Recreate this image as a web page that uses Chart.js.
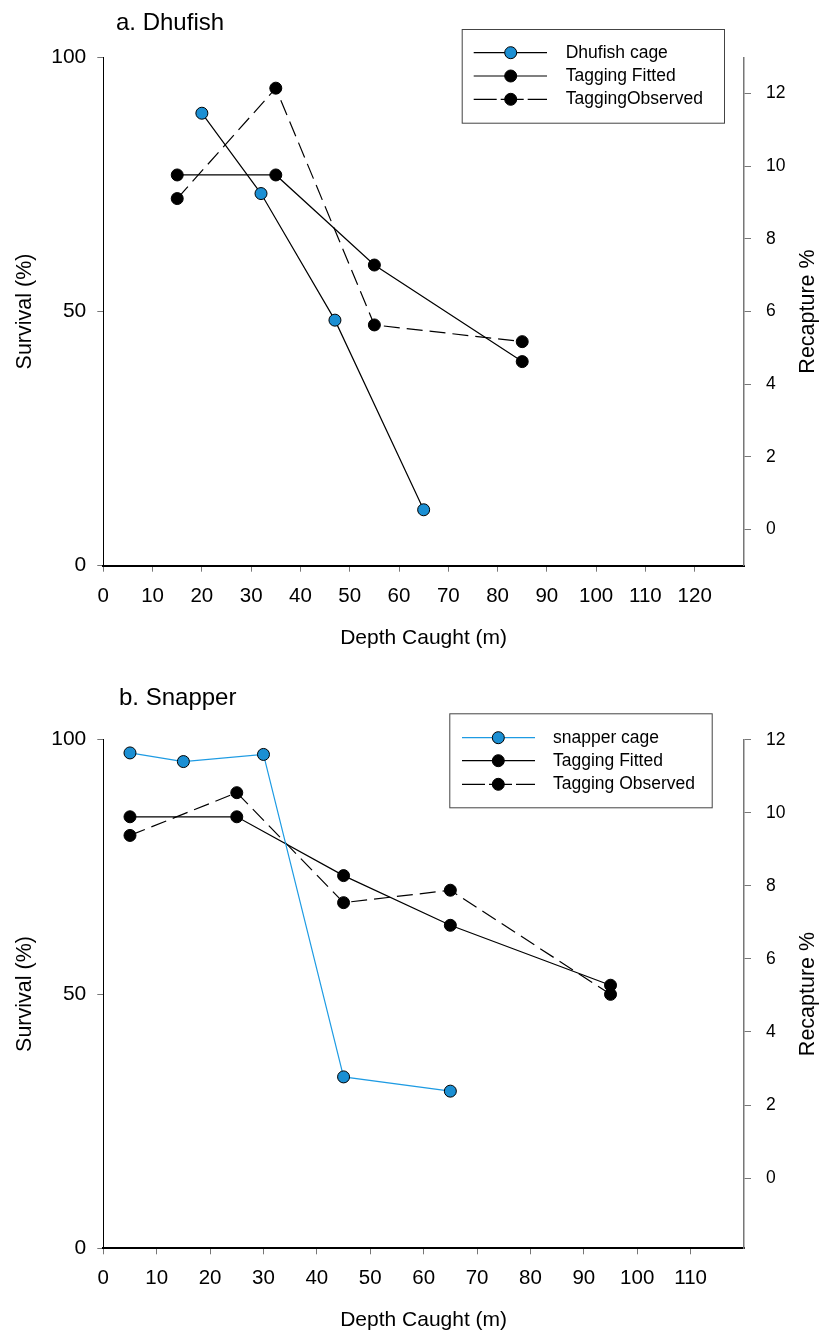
<!DOCTYPE html>
<html>
<head>
<meta charset="utf-8">
<title>Survival and recapture by depth caught</title>
<script src="https://cdn.jsdelivr.net/npm/chart.js@4/dist/chart.umd.min.js"></script>
<style>
	html, body { margin: 0; padding: 0; background: #fff; }
	#wrap { position: relative; width: 821px; height: 1333px; }
	#wrap canvas { position: absolute; left: 0; }
</style>
</head>
<body>
<div id="wrap">
	<canvas id="chart-a" width="821" height="651" style="top:0"></canvas>
	<canvas id="chart-b" width="821" height="682" style="top:651px"></canvas>
</div>
<script>
// a. Dhufish
var dhufishCageDepth = [20, 32, 47, 65];
var dhufishCageSurvival = [89, 73.2, 48.3, 11];
var dhufishTagDepth = [15, 35, 55, 85];
var dhufishFitted = [9.76, 9.76, 7.28, 4.62];
var dhufishObserved = [9.11, 12.15, 5.63, 5.17];
var dhufishDepthTicks = [0, 10, 20, 30, 40, 50, 60, 70, 80, 90, 100, 110, 120];

// b. Snapper
var snapperCageDepth = [5, 15, 30, 45, 65];
var snapperCageSurvival = [97.4, 95.7, 97.1, 33.7, 30.9];
var snapperTagDepth = [5, 25, 45, 65, 95];
var snapperFitted = [9.89, 9.89, 8.28, 6.92, 5.28];
var snapperObserved = [9.38, 10.55, 7.54, 7.88, 5.03];
var snapperDepthTicks = [0, 10, 20, 30, 40, 50, 60, 70, 80, 90, 100, 110];

var survivalTicks = [0, 50, 100];
var recaptureTicks = [0, 2, 4, 6, 8, 10, 12];

var FONT = '"Liberation Sans", Arial, Helvetica, sans-serif';
var BLUE_FILL = '#1b8fd3';
var BLUE_LINE = '#1e9be3';

function points(xs, ys) {
	return xs.map(function (x, i) {
		return { x: x, y: ys[i] };
	});
}

function setTicks(list) {
	return function (axis) {
		axis.ticks = list.map(function (v) { return { value: v }; });
	};
}

// panel title, right axis title and the boxed legend
var decorPlugin = {
	id: 'decor',
	afterDraw: function (chart, args, opts) {
		var ctx = chart.ctx;
		var area = chart.chartArea;
		ctx.save();

		ctx.fillStyle = '#000';
		ctx.font = '24px ' + FONT;
		ctx.textBaseline = 'alphabetic';
		ctx.textAlign = 'left';
		ctx.fillText(opts.title, opts.titleX, opts.titleY);

		ctx.save();
		ctx.translate(opts.rightTitleX, (area.top + area.bottom) / 2);
		ctx.rotate(-Math.PI / 2);
		ctx.font = '21.5px ' + FONT;
		ctx.textAlign = 'center';
		ctx.textBaseline = 'middle';
		ctx.fillText('Recapture %', 0, 0);
		ctx.restore();

		var lg = opts.legend;
		ctx.strokeStyle = '#444';
		ctx.lineWidth = 1;
		ctx.strokeRect(lg.left + 0.5, lg.top + 0.5, lg.width, lg.height);

		chart.data.datasets.forEach(function (ds, i) {
			var y = lg.rows[i];
			ctx.strokeStyle = ds.borderColor;
			ctx.lineWidth = ds.borderWidth;
			ctx.setLineDash(ds.borderDash ? lg.dash : []);
			ctx.beginPath();
			ctx.moveTo(lg.lineFrom, y);
			ctx.lineTo(lg.lineTo, y);
			ctx.stroke();
			ctx.setLineDash([]);

			ctx.beginPath();
			ctx.arc(lg.marker, y, ds.pointRadius, 0, Math.PI * 2);
			ctx.fillStyle = ds.pointBackgroundColor;
			ctx.fill();
			ctx.lineWidth = ds.pointBorderWidth;
			ctx.strokeStyle = ds.pointBorderColor;
			ctx.stroke();

			ctx.fillStyle = '#000';
			ctx.font = '17.5px ' + FONT;
			ctx.textAlign = 'left';
			ctx.textBaseline = 'middle';
			ctx.fillText(ds.label, lg.text, y);
		});
		ctx.restore();
	}
};

function makePanel(id, cfg) {
	var canvas = document.getElementById(id);
	var H = canvas.height;

	return new Chart(canvas, {
		type: 'line',
		data: {
			datasets: [{
				label: cfg.cageLabel,
				data: points(cfg.cageDepth, cfg.cageSurvival),
				yAxisID: 'y',
				borderColor: cfg.cageLine,
				borderWidth: 1.2,
				pointRadius: 6,
				pointBackgroundColor: BLUE_FILL,
				pointBorderColor: '#000',
				pointBorderWidth: 1,
				fill: false
			}, {
				label: 'Tagging Fitted',
				data: points(cfg.tagDepth, cfg.fitted),
				yAxisID: 'y1',
				borderColor: '#000',
				borderWidth: 1.2,
				pointRadius: 6,
				pointBackgroundColor: '#000',
				pointBorderColor: '#000',
				pointBorderWidth: 1,
				fill: false
			}, {
				label: cfg.observedLabel,
				data: points(cfg.tagDepth, cfg.observed),
				yAxisID: 'y1',
				borderColor: '#000',
				borderWidth: 1.2,
				borderDash: [16, 7],
				pointRadius: 6,
				pointBackgroundColor: '#000',
				pointBorderColor: '#000',
				pointBorderWidth: 1,
				fill: false
			}]
		},
		options: {
			responsive: false,
			animation: false,
			layout: { padding: { top: cfg.areaTop, left: 0, right: 0, bottom: 0 } },
			plugins: {
				legend: { display: false },
				tooltip: { enabled: false },
				decor: cfg.decor
			},
			scales: {
				x: {
					type: 'linear',
					min: 0,
					max: cfg.xMax,
					afterBuildTicks: setTicks(cfg.xTicks),
					afterFit: function (s) { s.height = H - cfg.areaBottom; },
					border: { display: true, color: '#000', width: 2 },
					grid: { drawOnChartArea: false, drawTicks: true, tickLength: 6, color: '#777' },
					ticks: { color: '#000', padding: 12, maxRotation: 0, font: { family: FONT, size: 20.5 } },
					title: {
						display: true,
						text: 'Depth Caught (m)',
						color: '#000',
						padding: { top: 0, bottom: 0 },
						font: { family: FONT, size: 21 }
					}
				},
				y: {
					type: 'linear',
					position: 'left',
					min: 0,
					max: 100,
					afterBuildTicks: setTicks(survivalTicks),
					afterFit: function (s) { s.width = 103.3; },
					border: { display: true, color: '#000', width: 1 },
					grid: { drawOnChartArea: false, drawTicks: true, tickLength: 6, color: '#777' },
					ticks: { color: '#000', padding: 11, font: { family: FONT, size: 21 } },
					title: {
						display: true,
						text: 'Survival (%)',
						color: '#000',
						padding: { top: 12, bottom: 0 },
						font: { family: FONT, size: 21.5 }
					}
				},
				y1: {
					type: 'linear',
					position: 'right',
					min: cfg.rightMin,
					max: cfg.rightMax,
					afterBuildTicks: setTicks(recaptureTicks),
					afterFit: function (s) { s.width = 821 - 744; },
					border: { display: true, color: '#777', width: 1.5 },
					grid: { drawOnChartArea: false, drawTicks: true, tickLength: 7, color: '#777' },
					ticks: { color: '#000', padding: 15, font: { family: FONT, size: 17.5 } }
				}
			}
		},
		plugins: [decorPlugin]
	});
}

makePanel('chart-a', {
	cageLabel: 'Dhufish cage',
	observedLabel: 'TaggingObserved',
	cageDepth: dhufishCageDepth,
	cageSurvival: dhufishCageSurvival,
	cageLine: '#000',
	tagDepth: dhufishTagDepth,
	fitted: dhufishFitted,
	observed: dhufishObserved,
	xMax: 130,
	xTicks: dhufishDepthTicks,
	rightMin: -1,
	rightMax: 13,
	areaTop: 57.3,
	areaBottom: 565.7,
	decor: {
		title: 'a. Dhufish',
		titleX: 116,
		titleY: 30,
		rightTitleX: 808,
		legend: {
			left: 461.7, top: 29, width: 262.3, height: 93.7,
			rows: [52.7, 76, 99.3],
			lineFrom: 473.7, lineTo: 547, marker: 510.7, text: 565.7,
			dash: [23, 4]
		}
	}
});

makePanel('chart-b', {
	cageLabel: 'snapper cage',
	observedLabel: 'Tagging Observed',
	cageDepth: snapperCageDepth,
	cageSurvival: snapperCageSurvival,
	cageLine: BLUE_LINE,
	tagDepth: snapperTagDepth,
	fitted: snapperFitted,
	observed: snapperObserved,
	xMax: 120,
	xTicks: snapperDepthTicks,
	rightMin: -1.92,
	rightMax: 12,
	areaTop: 88.7,
	areaBottom: 597.3,
	decor: {
		title: 'b. Snapper',
		titleX: 119,
		titleY: 54,
		rightTitleX: 808,
		legend: {
			left: 449.3, top: 62.3, width: 262.4, height: 94,
			rows: [86.7, 109.7, 133.3],
			lineFrom: 462, lineTo: 535, marker: 498.3, text: 553,
			dash: [23, 4]
		}
	}
});
</script>
</body>
</html>
